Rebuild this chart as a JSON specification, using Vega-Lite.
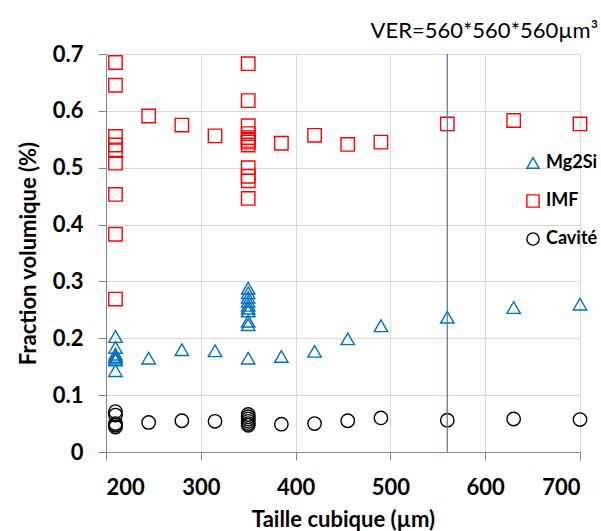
{
  "$schema": "https://vega.github.io/schema/vega-lite/v6.json",
  "width": 474,
  "height": 398,
  "autosize": {"type": "none"},
  "padding": {"left": 106, "top": 54, "right": 21, "bottom": 79},
  "background": "white",
  "title": {
    "text": "VER=560*560*560µm³",
    "anchor": "end",
    "fontSize": 22,
    "fontWeight": "normal",
    "font": "Lato",
    "color": "#000000",
    "offset": 0
  },
  "config": {
    "view": {"stroke": null},
    "axis": {
      "font": "Lato",
      "labelFont": "Lato",
      "titleFont": "Lato",
      "labelFontWeight": "bold",
      "titleFontWeight": "bold",
      "labelColor": "#000000",
      "titleColor": "#000000",
      "labelFontSize": 22,
      "titleFontSize": 22,
      "gridColor": "#d9d9d9",
      "gridWidth": 1,
      "domainColor": "#868686",
      "tickColor": "#868686",
      "tickSize": 8
    }
  },
  "layer": [
    {
      "data": {
        "values": [
          {"taille": 210, "fraction": 0.685, "serie": "IMF"},
          {"taille": 210, "fraction": 0.645, "serie": "IMF"},
          {"taille": 210, "fraction": 0.555, "serie": "IMF"},
          {"taille": 210, "fraction": 0.54, "serie": "IMF"},
          {"taille": 210, "fraction": 0.53, "serie": "IMF"},
          {"taille": 210, "fraction": 0.508, "serie": "IMF"},
          {"taille": 210, "fraction": 0.453, "serie": "IMF"},
          {"taille": 210, "fraction": 0.383, "serie": "IMF"},
          {"taille": 210, "fraction": 0.269, "serie": "IMF"},
          {"taille": 245, "fraction": 0.591, "serie": "IMF"},
          {"taille": 280, "fraction": 0.575, "serie": "IMF"},
          {"taille": 315, "fraction": 0.556, "serie": "IMF"},
          {"taille": 350, "fraction": 0.683, "serie": "IMF"},
          {"taille": 350, "fraction": 0.618, "serie": "IMF"},
          {"taille": 350, "fraction": 0.574, "serie": "IMF"},
          {"taille": 350, "fraction": 0.56, "serie": "IMF"},
          {"taille": 350, "fraction": 0.553, "serie": "IMF"},
          {"taille": 350, "fraction": 0.548, "serie": "IMF"},
          {"taille": 350, "fraction": 0.545, "serie": "IMF"},
          {"taille": 350, "fraction": 0.54, "serie": "IMF"},
          {"taille": 350, "fraction": 0.5, "serie": "IMF"},
          {"taille": 350, "fraction": 0.485, "serie": "IMF"},
          {"taille": 350, "fraction": 0.477, "serie": "IMF"},
          {"taille": 350, "fraction": 0.446, "serie": "IMF"},
          {"taille": 385, "fraction": 0.543, "serie": "IMF"},
          {"taille": 420, "fraction": 0.557, "serie": "IMF"},
          {"taille": 455, "fraction": 0.541, "serie": "IMF"},
          {"taille": 490, "fraction": 0.545, "serie": "IMF"},
          {"taille": 560, "fraction": 0.577, "serie": "IMF"},
          {"taille": 630, "fraction": 0.583, "serie": "IMF"},
          {"taille": 700, "fraction": 0.577, "serie": "IMF"},
          {"taille": 210, "fraction": 0.203, "serie": "Mg2Si"},
          {"taille": 210, "fraction": 0.184, "serie": "Mg2Si"},
          {"taille": 210, "fraction": 0.172, "serie": "Mg2Si"},
          {"taille": 210, "fraction": 0.168, "serie": "Mg2Si"},
          {"taille": 210, "fraction": 0.165, "serie": "Mg2Si"},
          {"taille": 210, "fraction": 0.162, "serie": "Mg2Si"},
          {"taille": 210, "fraction": 0.143, "serie": "Mg2Si"},
          {"taille": 245, "fraction": 0.165, "serie": "Mg2Si"},
          {"taille": 280, "fraction": 0.18, "serie": "Mg2Si"},
          {"taille": 315, "fraction": 0.178, "serie": "Mg2Si"},
          {"taille": 350, "fraction": 0.288, "serie": "Mg2Si"},
          {"taille": 350, "fraction": 0.28, "serie": "Mg2Si"},
          {"taille": 350, "fraction": 0.272, "serie": "Mg2Si"},
          {"taille": 350, "fraction": 0.265, "serie": "Mg2Si"},
          {"taille": 350, "fraction": 0.258, "serie": "Mg2Si"},
          {"taille": 350, "fraction": 0.253, "serie": "Mg2Si"},
          {"taille": 350, "fraction": 0.248, "serie": "Mg2Si"},
          {"taille": 350, "fraction": 0.23, "serie": "Mg2Si"},
          {"taille": 350, "fraction": 0.224, "serie": "Mg2Si"},
          {"taille": 350, "fraction": 0.165, "serie": "Mg2Si"},
          {"taille": 385, "fraction": 0.168, "serie": "Mg2Si"},
          {"taille": 420, "fraction": 0.177, "serie": "Mg2Si"},
          {"taille": 455, "fraction": 0.199, "serie": "Mg2Si"},
          {"taille": 490, "fraction": 0.222, "serie": "Mg2Si"},
          {"taille": 560, "fraction": 0.237, "serie": "Mg2Si"},
          {"taille": 630, "fraction": 0.254, "serie": "Mg2Si"},
          {"taille": 700, "fraction": 0.26, "serie": "Mg2Si"},
          {"taille": 210, "fraction": 0.071, "serie": "Cavité"},
          {"taille": 210, "fraction": 0.065, "serie": "Cavité"},
          {"taille": 210, "fraction": 0.05, "serie": "Cavité"},
          {"taille": 210, "fraction": 0.047, "serie": "Cavité"},
          {"taille": 210, "fraction": 0.044, "serie": "Cavité"},
          {"taille": 245, "fraction": 0.052, "serie": "Cavité"},
          {"taille": 280, "fraction": 0.055, "serie": "Cavité"},
          {"taille": 315, "fraction": 0.054, "serie": "Cavité"},
          {"taille": 350, "fraction": 0.066, "serie": "Cavité"},
          {"taille": 350, "fraction": 0.062, "serie": "Cavité"},
          {"taille": 350, "fraction": 0.058, "serie": "Cavité"},
          {"taille": 350, "fraction": 0.054, "serie": "Cavité"},
          {"taille": 350, "fraction": 0.05, "serie": "Cavité"},
          {"taille": 350, "fraction": 0.047, "serie": "Cavité"},
          {"taille": 385, "fraction": 0.049, "serie": "Cavité"},
          {"taille": 420, "fraction": 0.05, "serie": "Cavité"},
          {"taille": 455, "fraction": 0.055, "serie": "Cavité"},
          {"taille": 490, "fraction": 0.06, "serie": "Cavité"},
          {"taille": 560, "fraction": 0.056, "serie": "Cavité"},
          {"taille": 630, "fraction": 0.058, "serie": "Cavité"},
          {"taille": 700, "fraction": 0.057, "serie": "Cavité"}
        ]
      },
      "mark": {"type": "point", "filled": false, "strokeWidth": 1.4, "size": 180, "opacity": 1},
      "encoding": {
        "x": {
          "field": "taille",
          "type": "quantitative",
          "scale": {"domain": [200, 700], "nice": false, "zero": false},
          "axis": {"values": [200, 300, 400, 500, 600, 700], "title": "Taille cubique (µm)", "labelPadding": 17, "titlePadding": 11, "grid": true}
        },
        "y": {
          "field": "fraction",
          "type": "quantitative",
          "scale": {"domain": [0, 0.7], "nice": false},
          "axis": {"values": [0, 0.1, 0.2, 0.3, 0.4, 0.5, 0.6, 0.7], "format": ".1~f", "title": "Fraction volumique (%)", "labelPadding": 15, "titlePadding": 12, "grid": true}
        },
        "color": {
          "field": "serie",
          "type": "nominal",
          "scale": {"domain": ["Mg2Si", "IMF", "Cavité"], "range": ["#0070C0", "#FF0000", "#000000"]},
          "legend": {
            "title": null,
            "orient": "none",
            "legendX": 418,
            "legendY": 100,
            "labelFont": "Lato",
            "labelFontSize": 18,
            "labelFontWeight": "bold",
            "labelColor": "#000000",
            "symbolSize": 150,
            "symbolStrokeWidth": 1.4,
            "rowPadding": 20,
            "labelOffset": 4
          }
        },
        "shape": {
          "field": "serie",
          "type": "nominal",
          "scale": {"domain": ["Mg2Si", "IMF", "Cavité"], "range": ["triangle-up", "square", "circle"]},
          "legend": null
        }
      }
    },
    {
      "data": {"values": [{"taille": 560}]},
      "mark": {"type": "rule", "color": "#4a76b8", "strokeWidth": 1.2},
      "encoding": {
        "x": {"field": "taille", "type": "quantitative"}
      }
    }
  ]
}
